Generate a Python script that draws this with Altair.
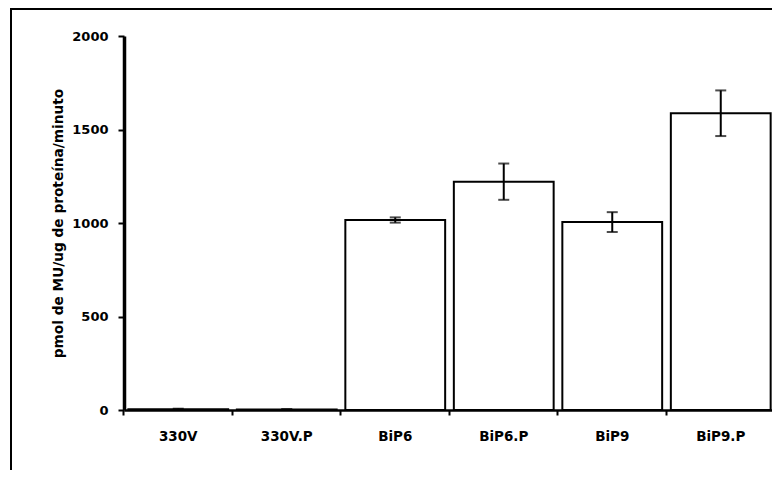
import altair as alt
import pandas as pd

categories = ["330V", "330V.P", "BiP6", "BiP6.P", "BiP9", "BiP9.P"]
means = [4, 3, 1016, 1221, 1005, 1587]
errors = [3, 2, 14, 97, 53, 122]
y_ticks = [0, 500, 1000, 1500, 2000]

df = pd.DataFrame({"cat": categories, "mean": means, "err": errors})
df["lo"] = df["mean"] - df["err"]
df["hi"] = df["mean"] + df["err"]

FONT = "DejaVu Sans"
W, H = 651, 374

xenc = alt.X(
    "cat:N",
    sort=categories,
    scale=alt.Scale(paddingInner=0.08, paddingOuter=0.04),
    axis=alt.Axis(
        title=None, labelAngle=0, labelFont=FONT, labelFontSize=13.5, labelFontWeight="bold",
        labelColor="black", domainColor="black", domainWidth=2.5, tickColor="black",
        tickWidth=2, tickSize=5, labelPadding=14, bandPosition=-0.0435, grid=False,
    ),
)

base = alt.Chart(df)

bars = base.mark_bar(fill="white", stroke="black", strokeWidth=2).encode(
    x=xenc,
    y=alt.Y(
        "mean:Q",
        scale=alt.Scale(domain=[0, 2000], nice=False),
        axis=alt.Axis(
            title="pmol de MU/ug de proteína/minuto", values=y_ticks, format="d",
            titleFont=FONT, titleFontSize=13.7, titleFontWeight="bold", titleColor="black",
            titleAngle=-90, titleX=-66, titleY=H / 2, titleAlign="center", titleBaseline="middle",
            labelFont=FONT, labelFontSize=13, labelFontWeight="bold",
            labelColor="black", domainColor="black", domainWidth=3.5, tickColor="black",
            tickWidth=2, tickSize=6, labelPadding=10, grid=False,
        ),
    ),
)

err_rule = base.mark_rule(color="black", strokeWidth=2).encode(
    x=alt.X("cat:N", sort=categories), y="lo:Q", y2="hi:Q"
)
cap_hi = base.mark_tick(color="black", size=11, thickness=2, orient="horizontal").encode(
    x=alt.X("cat:N", sort=categories), y="hi:Q"
)
cap_lo = base.mark_tick(color="black", size=11, thickness=2, orient="horizontal").encode(
    x=alt.X("cat:N", sort=categories), y="lo:Q"
)

one = alt.Chart(pd.DataFrame({"k": [0]}))
end_tick = one.mark_rule(color="black", strokeWidth=2).encode(
    x=alt.value(W), y=alt.value(H), y2=alt.value(H + 5)
)
frame_top = one.mark_rule(color="black", strokeWidth=2).encode(
    x=alt.value(-113), x2=alt.value(W + 10), y=alt.value(-27)
)
frame_left = one.mark_rule(color="black", strokeWidth=2).encode(
    x=alt.value(-113), y=alt.value(-28), y2=alt.value(434)
)

chart = alt.layer(bars, err_rule, cap_hi, cap_lo, end_tick, frame_top, frame_left).properties(
    width=W, height=H,
    autosize=alt.AutoSizeParams(type="none"),
    padding={"left": 116, "top": 28, "right": -3, "bottom": 60},
    background="white",
).configure_view(stroke=None)

chart.save("out.html", embed_options={"renderer": "svg", "actions": False})
